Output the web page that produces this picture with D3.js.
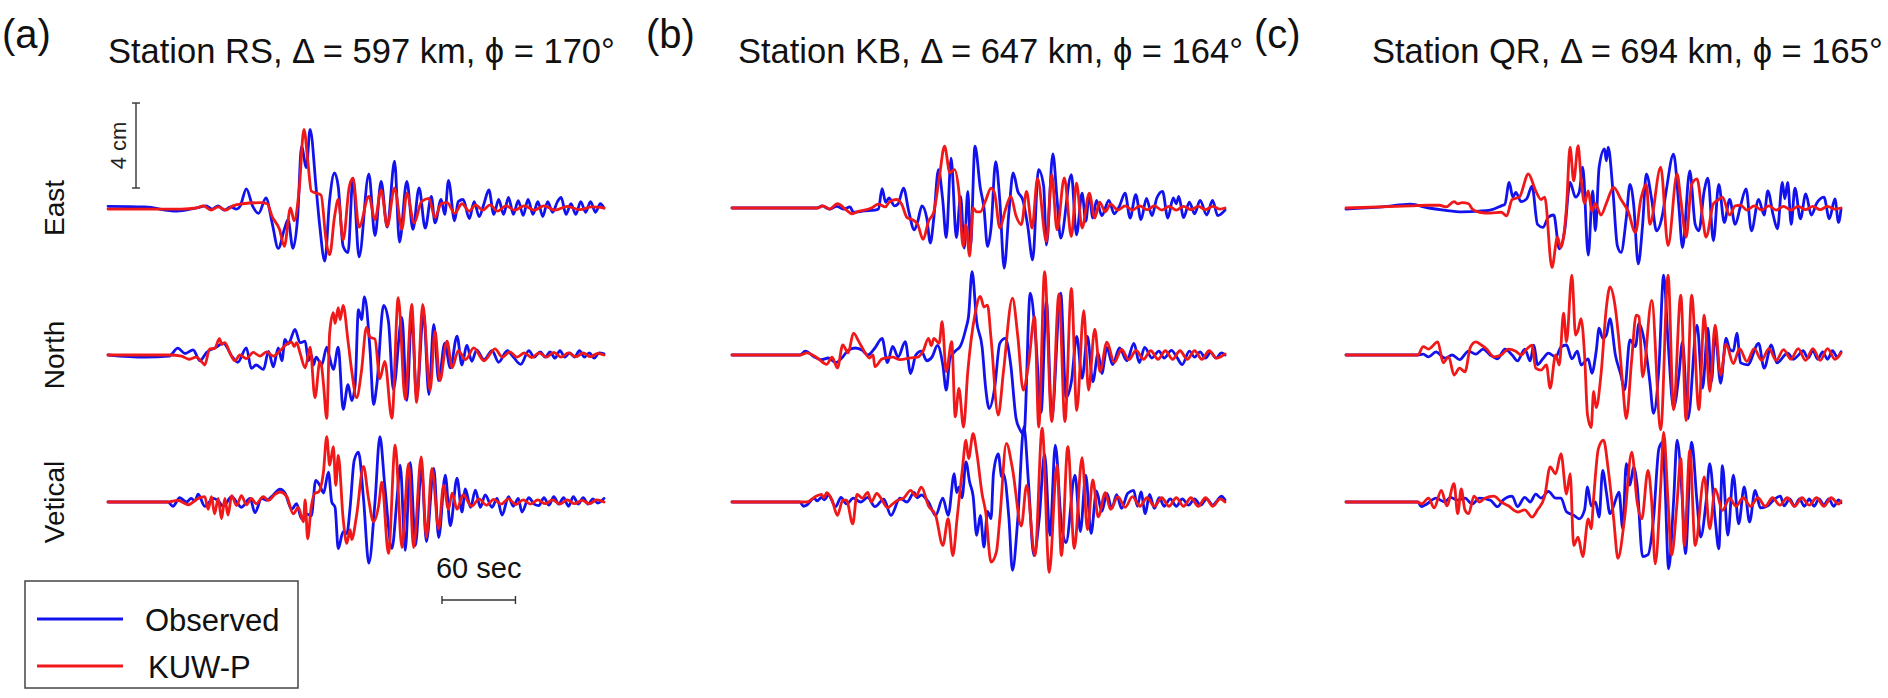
<!DOCTYPE html>
<meta charset="utf-8">
<style>
  body { margin: 0; background: #fff; }
  svg { display: block; font-family: "Liberation Sans", Arial, Helvetica, sans-serif; }
  .trace { fill: none; stroke-width: 2.8; stroke-linejoin: round; stroke-linecap: round; }
  .bar { stroke: #333; stroke-width: 1.4; fill: none; }
</style>
<svg width="1888" height="698"></svg>
<script src="https://d3js.org/d3.v7.min.js"></script>
<script>

var letters = ["(a)", "(b)", "(c)"];
var titles = ["Station RS, \u0394 = 597 km, \u03d5 = 170\u00b0",
              "Station KB, \u0394 = 647 km, \u03d5 = 164\u00b0",
              "Station QR, \u0394 = 694 km, \u03d5 = 165\u00b0"];
var components = ["East", "North", "Vetical"];
var seriesNames = ["Observed", "KUW-P"];

// [time (s), displacement (cm)], peak by peak

// station RS
var rsEastObs = [[0,0.08],[30,0.05],[56,-0.15],[72,0],[80,0.1],[85,-0.05],[90,0.1],[95,-0.1],[100,0.05],[105,-0.05],[108,0.1],[113,0.9],[118,0.1],[123,-0.25],[129,0.47],[134,-0.7],[139,-1.9],[144,-1.0],[147,-0.55],[151,-1.9],[155,-0.3],[158,2.9],[162,1.9],[165,3.7],[170,0.9],[173,-0.9],[177,-2.5],[181,0.4],[185,1.65],[188,1.0],[192,-1.8],[196,-2.1],[200,1.4],[205,-2.3],[213,1.6],[218,-1.3],[223,1.25],[228,-0.9],[234,2.2],[238,-1.6],[244,1.25],[249,-1.0],[254,0.95],[259,-0.95],[264,0.55],[267,-0.7],[272,0.4],[275,-0.3],[278,1.3],[283,-0.6],[286,0.3],[290,0.4],[295,-0.5],[299,0.3],[303,-0.4],[307,0.2],[311,0.85],[315,-0.3],[319,0.4],[323,-0.3],[327,0.5],[331,-0.3],[335,0.35],[339,-0.35],[343,0.4],[347,-0.3],[351,0.3],[355,-0.4],[359,0.3],[363,-0.2],[367,0.3],[370,0.5],[374,-0.3],[378,0.2],[382,-0.3],[386,0.3],[390,-0.2],[394,0.3],[398,-0.2],[402,0.2],[405,0]];
var rsEastSyn = [[0,-0.05],[60,-0.05],[72,0],[78,0.1],[84,-0.1],[90,0.05],[96,-0.1],[102,0.1],[110,0.2],[125,0.25],[130,0.2],[134,-0.4],[140,-1.0],[144,-1.8],[149,0],[152,-0.6],[156,0.8],[160,3.7],[163,2.3],[166,0.8],[170,0.7],[174,0.6],[178,-1.5],[181,-2.2],[185,-0.4],[188,0.4],[192,-1.5],[197,1.0],[200,1.4],[205,-0.9],[213,0.55],[218,-0.55],[223,0.85],[228,-0.85],[234,0.95],[240,-1.0],[244,0.7],[250,-0.7],[256,0.3],[262,0.45],[267,-0.45],[272,0.2],[277,0.25],[283,-0.25],[289,0.2],[295,-0.15],[300,0.15],[306,-0.1],[312,0.15],[318,-0.15],[325,0.1],[332,-0.1],[340,0.1],[348,-0.1],[356,0.1],[365,-0.1],[375,0.08],[385,-0.08],[395,0.05],[405,0]];
var rsNorthObs = [[0,0],[30,-0.1],[50,-0.05],[57,0.32],[63,0.07],[69.5,0.24],[75,-0.27],[80.5,0.12],[88.6,0.37],[94,0.56],[102,-0.13],[106,-0.34],[113,0.34],[117,-0.63],[121,-0.47],[127,-0.68],[131,0.17],[135,-0.56],[139,0.34],[142,-0.27],[144.5,0.74],[147,0.51],[148.6,0.65],[152.7,1.21],[156.8,0.58],[161,0.65],[163.6,-0.27],[166,0],[167.7,-0.47],[170,-0.1],[174.5,-0.47],[178.6,0.37],[181,-0.13],[184,-0.68],[188,0.37],[192,-2.56],[196,-1.4],[199,-2.14],[201.8,-1.4],[204.5,2.14],[207,1.67],[209.4,2.73],[214,0.2],[216.8,-2.33],[219.5,-1.4],[225,2.33],[229,1.58],[233,-1.62],[240,1.77],[244,-2.14],[248,1.91],[252,-2.01],[257.7,1.99],[262,-1.86],[266,1.44],[270,-1.21],[275,0.56],[279.5,-0.6],[285,0.89],[289,-0.47],[293,0.46],[297,-0.3],[301,0.24],[307,-0.22],[313.6,0.2],[319,-0.34],[326,0.2],[331,-0.1],[337,-0.44],[343.6,0.2],[348,-0.1],[353,0.15],[357,-0.1],[361,0.15],[365,-0.15],[369,0.2],[373,-0.1],[377,0.1],[381,-0.1],[385,0.2],[389,-0.1],[393,0.1],[397,-0.15],[401,0.1],[405,0.05]];
var rsNorthSyn = [[0,0],[50,0],[60,-0.05],[66,-0.2],[72,-0.1],[77,-0.35],[79,-0.47],[83,0.29],[87,0.3],[91,0.77],[93,0.5],[95.5,0.58],[99.5,0.1],[103.6,-0.27],[107.7,0],[113,-0.17],[118.6,0.12],[124,-0.05],[129.5,0.15],[135,-0.05],[140.4,0.2],[146,0.51],[150,0.61],[152,0.4],[154,0.58],[156.8,0.1],[161,-0.6],[165,0.37],[169,-2.01],[173,-0.3],[174.5,-0.56],[176,-1.4],[178.6,-2.98],[181,1.05],[184,1.99],[185.4,1.49],[188,2.23],[189.5,1.67],[192,2.33],[196,0.65],[199,-0.74],[203,-2.01],[207,-0.74],[211,1.3],[214,0.84],[218,0.74],[222,-1.12],[226,-0.3],[231.8,-2.98],[237,2.7],[242.7,-2.09],[248,2.38],[252,-2.23],[257,2.38],[263,-1.67],[267,1.12],[271,-1.21],[276.8,0.65],[281,-0.6],[286,0.2],[292,-0.22],[298.6,0.34],[307,-0.27],[316,0.29],[322,-0.1],[328,0.15],[334,-0.1],[340,0.1],[346,-0.12],[352,0.1],[358,-0.1],[364,0.12],[370,-0.1],[376,0.1],[382,-0.08],[388,0.1],[394,-0.08],[400,0.08],[405,0]];
var rsVertObs = [[0,0],[49,0],[53,-0.2],[58.6,0.2],[64,0],[68,0.17],[71,0.05],[73.6,0.37],[79,-0.2],[86,0.17],[90,0.05],[94,-0.2],[101,0.25],[105,0],[109,-0.25],[116,0.17],[120,-0.5],[125.4,0.17],[129.5,0.08],[133.6,0.25],[140.4,0.6],[144.5,0.42],[150,-0.34],[154,-0.08],[158,-0.79],[162,-0.56],[166,-0.65],[169.6,1.02],[173,0.78],[176,0.42],[180,1.41],[182.7,0],[185.4,-0.25],[188,-2.19],[192,-1.4],[195,-1.49],[197.7,-0.25],[201,1.95],[204.5,2.35],[208.6,0.17],[213,-2.88],[218,0],[222,3.07],[226,0.78],[231.8,-2.19],[236,0.17],[238.6,1.73],[242.7,-2.28],[246.8,1.86],[251,-2.05],[256,1.58],[260,-1.86],[266,1.58],[270,-1.67],[275.4,1.26],[279.5,-1.12],[285,1.12],[289,-0.47],[291.8,0.62],[296,-0.25],[300,0.56],[304,-0.25],[308,0.34],[313.6,-0.25],[317.7,0.17],[321.8,-0.62],[327,0.25],[331,-0.2],[335,0.17],[338,-0.47],[343.6,0.2],[348,-0.1],[351.8,-0.17],[356,0.2],[360,-0.15],[364,0.25],[368,-0.1],[372,0.2],[376,-0.2],[380,0.25],[384,-0.1],[388,0.2],[392,-0.1],[396,0.15],[400,-0.05],[405,0.17]];
var rsVertSyn = [[0,0],[49,0],[57,0.08],[65.5,-0.13],[73.6,0.17],[79,0.25],[81.8,-0.34],[84.5,0.25],[87,-0.56],[90,0.17],[92.7,-0.79],[95.4,0.17],[98,-0.62],[101,0.3],[105,-0.17],[109,0.3],[113,-0.13],[117,0.17],[121,-0.08],[126.8,0.25],[131,0.08],[136,0.34],[140.4,0.47],[146,0.25],[151.3,-0.56],[155.4,-0.25],[159.5,-0.93],[161,0.1],[163,-1.73],[166,-0.2],[169,0.42],[171.8,0.47],[175.9,1.4],[178.6,3.07],[181,1.73],[184,2.6],[186,0.78],[188,2.19],[192,-0.78],[195,-1.95],[197.7,-1.3],[199,-1.77],[203,-0.62],[208.6,1.67],[212.7,0.17],[216.8,-0.93],[221,-0.17],[223.6,0.93],[229,-2.42],[234.5,2.67],[240,-2.14],[245.4,1.8],[249.5,-2.14],[255.8,2.12],[260,-1.67],[264.5,1.58],[270,-1.26],[274,0.78],[278,-0.34],[281,0.42],[285,-0.34],[290,0.34],[297,-0.2],[303,0.15],[309,-0.15],[315,0.12],[321,-0.1],[327,0.15],[333,-0.12],[339,0.1],[345,-0.1],[351,0.1],[357,-0.08],[363,0.1],[369,-0.1],[375,0.1],[381,-0.08],[387,0.08],[393,-0.08],[399,0.1],[405,0]];

// station KB
var kbEastObs = [[0,0],[70,0],[74,0.1],[80,-0.05],[86,0.08],[92,-0.05],[96.9,0.05],[99.8,-0.2],[108.6,-0.14],[117.4,-0.1],[120.3,-0.05],[123.3,0.91],[126.2,0.27],[129,0.47],[133.5,0.1],[136.5,0.2],[140.9,0.94],[145.3,-0.18],[149.7,-1.03],[152.6,-0.63],[156,0.1],[160,-0.47],[162.9,-1.65],[165.8,-0.47],[169.6,1.81],[173,0.44],[176,-1.39],[180,2.35],[184.3,-1.39],[187.8,0.55],[190.8,-1.89],[193.7,0.78],[196,-1.74],[199.6,2.91],[204,0.94],[207,0],[209.9,-1.81],[212.8,-0.94],[216.6,2.18],[220,0.36],[223.6,-2.83],[227.5,-0.18],[231,1.65],[234.8,0.78],[239,0.36],[243,-0.87],[247,-2.44],[251.8,1.81],[256,1.04],[258.3,-1.74],[263.6,2.55],[267,0.44],[270,-1.42],[278.8,1.57],[283,-1.26],[287.6,0.7],[290.6,-0.63],[293.5,0.63],[296.4,-0.47],[299.4,0.36],[303.8,-0.36],[309.6,0.36],[314,-0.27],[318.4,0.1],[322.9,0.7],[327,-0.47],[331.7,0.63],[336,-0.55],[340.5,0.45],[345,-0.36],[349,0.47],[353.7,0.78],[358,-0.47],[362.5,0.47],[365,0.2],[367,0.55],[371,-0.45],[375.7,0.27],[380,-0.27],[384.5,0.36],[390,-0.33],[394.8,0.36],[399,-0.36],[405,-0.1]];
var kbEastSyn = [[0,0],[70,0],[74.8,0.1],[80,-0.05],[86.6,0.2],[94,-0.1],[98.3,-0.27],[102.7,-0.18],[114.5,0],[120.3,0.18],[126,0.05],[129,0.27],[135,0.4],[139.4,0.18],[143.8,-0.45],[148.2,-0.55],[152.6,-0.78],[157,-1.48],[161.4,-0.63],[165.8,-0.18],[170.2,1.39],[174.6,2.91],[179,1.65],[182.8,1.81],[186.4,0.78],[189.9,-1.81],[192.2,-0.78],[195.2,-2.26],[198,0],[201,-0.18],[204,-0.18],[208.4,0.36],[212.8,0.94],[215.7,0.7],[220,-0.94],[224.5,-0.1],[229,0.55],[233.3,-0.36],[237.7,-0.78],[242,0.78],[246.5,-0.94],[251,1.39],[258.3,-1.57],[262.7,1.57],[267,-1.03],[273,1.42],[278.8,-1.34],[283,1.17],[287.6,-0.94],[293.5,0.7],[298,-0.47],[302,0.27],[306.7,-0.18],[311,0.18],[317,-0.1],[323,0.1],[329,-0.1],[335,0.1],[341,-0.08],[347,0.1],[353,-0.1],[359,0.08],[365,-0.1],[371,0.08],[377,-0.08],[383,0.08],[389,-0.08],[395,0.08],[401,-0.05],[405,0]];
var kbNorthObs = [[0,0],[55.8,0],[60.2,0.18],[67.5,-0.09],[73.4,-0.22],[79.2,-0.14],[85.1,-0.36],[91,-0.09],[95.4,0.22],[101.3,0.33],[107.1,0.22],[111.5,0],[117.4,0.33],[123.3,0.78],[127.7,-0.36],[132,0.4],[136.5,-0.09],[142.3,0.63],[146.8,-0.87],[151,0],[155.6,0.18],[160,-0.27],[164.4,-0.09],[168.8,0.45],[173.2,-0.47],[176,-1.65],[179,-0.18],[183.4,0.18],[187.8,0.44],[192.2,1.26],[194.3,1.81],[197.2,3.92],[201,1.57],[205.5,0.36],[208.4,-1.57],[211.3,-2.52],[215.7,-1.57],[220,0.55],[224.5,0.78],[229,-0.47],[233.3,-2.96],[236.3,-3.48],[239.8,-3.74],[245,2.91],[249.5,0.78],[253.9,-2.7],[258.3,2.52],[262.7,-2.91],[270,2.91],[274.4,-2.0],[278.8,-1.26],[283.2,0.87],[287.6,-1.1],[292,0.87],[296.4,-1.26],[300.8,0.09],[303.8,-0.87],[308,0.36],[312.6,-0.45],[318.4,0.33],[324.3,-0.27],[330.2,0.55],[334.6,-0.36],[339,0.36],[344.9,-0.14],[350.7,0.18],[355,-0.14],[361,0.22],[365.4,-0.1],[369.8,-0.45],[375.7,0.18],[380,-0.1],[384.5,0.15],[388.9,-0.15],[393.3,0.12],[397.7,-0.15],[402,0.1],[405,0]];
var kbNorthSyn = [[0,0],[55.8,0],[61.6,0.1],[70.4,-0.15],[77.8,-0.44],[82.2,-0.1],[86.6,-0.61],[91,0.47],[95.4,0.1],[99.8,1.03],[104.2,0.63],[108.6,0.18],[113,-0.14],[115.9,0],[117.4,-0.55],[123.3,-0.18],[132,-0.1],[138,-0.22],[146.8,-0.14],[152.6,-0.1],[157,0.18],[161.4,0.78],[163.8,0.44],[165.8,0.78],[170.2,0.55],[172.6,1.57],[176,-0.78],[180.5,0.63],[183.4,-2.91],[186.4,-1.57],[190.2,-3.39],[193.7,-0.78],[199.6,1.91],[204,2.76],[207,2.26],[209.9,2.35],[212.8,0.78],[218.7,-2.83],[223,-0.78],[230.4,2.67],[234.8,0.87],[239.2,-1.65],[243.6,-0.44],[248.6,1.81],[252,-3.39],[256.8,3.92],[262.7,-3.13],[268.6,2.87],[273.5,-3.13],[278.8,3.13],[283.2,-2.61],[289,2.09],[292.9,-1.65],[298,1.22],[302.3,-0.78],[308,0.61],[314,-0.35],[320,0.26],[326,-0.22],[332,0.22],[338,-0.2],[344,0.2],[350,-0.2],[356,0.2],[362,-0.2],[368,0.2],[374,-0.2],[380,0.2],[386,-0.2],[392,0.2],[398,-0.15],[405,0.05]];
var kbVertObs = [[0,0],[55.8,0],[58.7,-0.2],[61.6,-0.14],[67.5,0.18],[70,0.05],[73.4,0.22],[76,0.1],[79.2,0.33],[85.1,-0.22],[89.5,0.22],[94,-0.09],[99.8,0.18],[105.7,0],[111.5,0.22],[117.4,-0.22],[124.7,0.14],[130.6,-0.63],[138,0.18],[143.8,0],[149.7,0.45],[152,0.2],[155.6,0.33],[161.4,0],[167.3,-0.63],[173.2,0.18],[177.6,-0.63],[182.6,1.34],[184.5,0.44],[186.4,0.7],[189,0.2],[192.2,1.89],[195.2,0.94],[198.1,0.27],[201,-1.57],[204,-0.63],[207,-2.12],[209.9,-0.44],[212.8,-0.78],[214.8,1.34],[218.7,2.26],[221.6,1.18],[223,1.34],[227.5,-0.78],[230.4,-3.22],[234.8,-0.78],[239.8,3.54],[243.6,0.87],[248,-2.52],[252.4,-0.78],[256.8,2.26],[261.2,-1.57],[265.6,2.67],[270.6,-1.04],[274.4,-1.91],[281.8,1.26],[286.2,-1.39],[290.6,1.26],[295,-1.48],[299.4,0.52],[303.8,-0.44],[308,0.4],[312,-0.3],[316,0.35],[320,-0.3],[325,0.4],[330,0.55],[333,-0.2],[336,0.47],[339.5,-0.55],[343,0.36],[347,-0.3],[351,0.2],[355,-0.2],[360,0.15],[365,-0.2],[370,0.15],[375,-0.15],[380,0.15],[385,-0.15],[390,0.15],[395,-0.15],[399,0.1],[402,0.27],[405,0.1]];
var kbVertSyn = [[0,0],[55.8,0],[61.6,0],[69,0.27],[73.4,0.36],[75.5,0.2],[77.8,0.44],[82.2,0.09],[86.6,-0.63],[91,0.09],[94,0.09],[99.2,-1.03],[102.7,0.36],[107.1,0.18],[111.5,0.45],[114.5,0],[118.9,0.4],[123.3,0.09],[127.7,-0.27],[132,-0.09],[136.5,0.09],[140.9,0.18],[146.8,0.55],[151,0.27],[155.6,0.7],[161.4,-0.18],[167.3,-0.63],[173.2,-2.04],[177.6,-0.78],[181.4,-2.52],[184.9,-0.78],[189.3,1.57],[192.2,2.91],[194.3,2.04],[198.1,3.22],[201,2.35],[205.5,0.36],[208.4,-0.47],[212.8,-2.83],[217.2,-2.35],[220,-0.78],[225.4,2.76],[230.4,1.57],[237.7,-1.13],[242,0.78],[248.9,-2.52],[254.8,3.48],[260.6,-3.31],[267,1.74],[270.6,-2.52],[275.9,2.61],[281.2,-2.18],[287.6,2.09],[292,-1.3],[296.4,1.04],[300.8,-0.7],[306.7,0.44],[311,-0.35],[317,0.25],[323,-0.25],[329,0.25],[335,-0.2],[341,0.2],[347,-0.2],[353,0.2],[359,-0.2],[365,0.2],[371,-0.2],[377,0.2],[383,-0.2],[389,0.2],[395,-0.2],[401,0.15],[405,0]];

// station QR
var qrEastObs = [[0,-0.05],[30,0.05],[52.8,0.18],[67.6,0],[80,-0.1],[95,-0.18],[109,-0.15],[118,-0.1],[127,0.1],[130,0.18],[133.5,1.2],[136.5,0.51],[138.9,0.74],[143.3,0.3],[147.8,0.43],[152.2,1.03],[156.7,-0.77],[161.1,-0.91],[165.6,-0.43],[170,-0.33],[174.5,-1.92],[178.9,-1.07],[183.3,1.2],[187.8,0.51],[190.8,0.74],[193.7,1.92],[198.2,-2.22],[201.8,0.81],[204,-1.07],[207.1,1.92],[211.5,2.78],[213,2.22],[214.5,2.86],[218.4,0.81],[222,-1.77],[225,-2.09],[229.4,-0.43],[232.3,1.11],[235.3,0.2],[239.1,-2.63],[242.7,-0.77],[245.7,1.6],[250.1,0.4],[254,-1.07],[259,-0.3],[262,0.81],[268,2.54],[272.4,0.04],[275.3,-1.86],[281.3,1.75],[285.7,-0.77],[288.7,-1.07],[293.1,0.81],[296.1,1.41],[300.6,-1.54],[305,1.11],[309.5,-0.68],[313.9,0.4],[318.4,-0.77],[322.8,0.1],[327.3,0.9],[331.7,-1.07],[337.6,0.4],[342.1,-0.33],[345.1,0.81],[349.5,-0.33],[353,-0.98],[357,1.2],[359,0.43],[361.4,1.2],[364.3,-0.77],[367.3,0.94],[371.8,-0.51],[376.2,0.66],[380.7,-0.33],[385.1,0.22],[391,0.51],[395.5,-0.51],[400,0.43],[403,-0.68],[405,-0.05]];
var qrEastSyn = [[0,0],[52.8,0.1],[67.6,0.13],[76.5,0.13],[82,0.05],[88.4,0.3],[91.4,0.2],[95,0.25],[100.3,0.2],[103.3,-0.05],[109.2,-0.2],[118,-0.24],[127,-0.2],[131.4,-0.37],[135.9,0.4],[141.8,0.51],[149.2,1.6],[155.2,0.81],[159.6,0.4],[162.6,0.51],[168.5,-2.8],[173,-1.37],[175.7,-1.86],[180.4,0.04],[183.3,2.86],[186.3,1.28],[189.9,2.93],[192.3,1.41],[195.2,0.22],[198.2,0.81],[201.2,-0.15],[204,0.22],[208.6,-0.33],[213,0.22],[219,0.97],[225,0.4],[230.8,-0.15],[236.8,-1.15],[241.2,0.4],[245.7,1.11],[248.6,-0.77],[257.5,1.92],[263.5,-1.77],[270.9,1.6],[273.9,0.4],[278.3,-1.37],[282.8,1.11],[287.2,1.37],[291.7,-0.43],[294.6,-1.37],[300.6,0.2],[305,0.4],[308,0.51],[313.9,-0.33],[318.4,0.1],[322.8,0.13],[328,-0.1],[334,0.1],[340,-0.1],[346,0.1],[352,-0.1],[358,0.08],[364,-0.1],[370,0.08],[376,-0.08],[382,0.08],[388,-0.08],[394,0.08],[400,-0.05],[405,0]];
var qrNorthObs = [[0,0],[58.7,0],[63.2,0.04],[67.6,-0.09],[73.6,0.15],[81,-0.15],[86.9,0],[92.9,-0.22],[100.3,0.18],[106.2,0.04],[112.2,0.28],[118,0],[124,-0.18],[130,0.28],[135.9,0],[140.3,-0.28],[146.3,0.28],[150.7,-0.28],[153.7,0.46],[156.7,-0.46],[161.1,-0.18],[165.6,0.09],[171.5,-0.09],[175.9,0.37],[180.4,0.47],[184.8,-0.18],[189.3,0.18],[192.3,-0.47],[198.2,-0.18],[201.2,-0.86],[204.7,0.18],[207.1,1.26],[210,0.79],[213,0.94],[216,1.71],[220.4,0],[224.9,-0.94],[227.9,-1.65],[232.3,0.71],[236.8,0.4],[239.7,1.49],[244.2,0.62],[248.6,-1.26],[251.6,-2.74],[256,-0.62],[259.9,3.76],[263.5,0.62],[268,-2.48],[272.4,-0.94],[275.3,0.62],[279.8,-2.99],[287.2,1.41],[291.7,-1.56],[296.1,1.26],[299,-1.26],[302,1.03],[306.5,-1.33],[311,0.79],[313.9,0.28],[316.9,0.18],[319.8,1.03],[322.8,-0.37],[328.7,-0.46],[337.6,0.55],[342.1,-0.62],[348,0.47],[352.5,-0.37],[361.4,0.09],[366,-0.2],[370.3,0],[374,0.2],[378,-0.15],[382,0.2],[386,-0.2],[390,0.15],[394,-0.2],[398,0.2],[402,-0.1],[405,0.15]];
var qrNorthSyn = [[0,0],[58.7,0],[63.2,0.39],[67.6,0.28],[75.1,0.62],[79.5,-0.37],[84,-0.09],[88.4,-0.94],[92.9,-0.62],[97.3,-0.79],[101.8,0.37],[106.2,0.62],[110.7,0.47],[115.1,0.28],[121,-0.09],[127,0],[132.9,0.28],[138.9,0.18],[143.3,0],[147.8,0.28],[152.2,0.46],[155.2,-0.62],[159.6,-0.71],[164,-0.47],[167,-1.56],[171.5,0],[174.5,-0.47],[178,1.97],[180.4,0.62],[184.8,3.76],[187.8,0.94],[189.9,1.18],[192.3,1.71],[195.2,0],[197.6,-2.82],[200.6,-3.42],[202.6,-1.71],[204.7,-2.48],[208.6,-0.94],[213,2.22],[216,3.21],[219.6,2.51],[223.4,0.62],[226.4,-1.41],[229.3,-2.99],[233.8,-0.18],[237.4,1.88],[239.7,1.8],[242.7,-1.03],[250.1,2.57],[257.5,-3.51],[263.5,3.76],[268,-2.57],[273.9,2.82],[278.3,-3.08],[282.8,2.82],[288.7,-2.57],[293.1,1.88],[297.6,-1.71],[302,1.41],[306.5,-0.94],[311,0.51],[316.9,-0.4],[322,0.3],[328,-0.3],[334,0.3],[340,-0.25],[346,0.3],[352,-0.25],[358,0.25],[364,-0.2],[370,0.3],[376,-0.25],[382,0.3],[388,-0.25],[394,0.3],[400,-0.2],[405,0.1]];
var qrVertObs = [[0,0],[58.7,0],[61.7,-0.22],[66.2,-0.09],[73.6,0.18],[81,0],[85.4,0.22],[91.4,0.09],[97.3,0.18],[103.3,-0.09],[109.2,0.18],[118,0.09],[124,-0.22],[128.5,0.09],[135.9,0.28],[140.3,-0.22],[146.3,0.22],[150.7,0],[155.2,0.37],[159.6,0.18],[165.6,0.5],[171.5,0.18],[175.9,0.18],[180.4,-0.46],[186.3,-0.62],[190.8,-0.79],[195.2,-0.37],[197.6,0.71],[200.6,-0.18],[204.1,0],[207.1,-0.71],[210,1.49],[213,0.47],[216,-0.55],[219,-0.18],[223.4,0.46],[226.4,-1.26],[229.3,1.8],[232.3,0.79],[235.3,1.65],[238.2,0.79],[242.7,-2.57],[247.1,-2.48],[251.6,-0.79],[256,2.51],[259,2.82],[260.5,1.56],[264,-3.14],[268,0],[270.9,2.91],[275.3,0],[277.7,-2.43],[282.8,2.82],[287.2,0],[290.2,-1.65],[294.6,0],[297.6,1.8],[302,-0.79],[305,-2.2],[308,1.71],[312.4,-1.56],[316.9,1.26],[321.3,-1.03],[325.8,0.71],[330.2,-0.94],[334.7,0.55],[339.1,-0.28],[345.1,-0.18],[350,0.1],[355.4,0.28],[358.4,-0.18],[363,0.15],[367,-0.2],[371,0.15],[375,-0.2],[379,0.15],[383,-0.2],[387,0.15],[391,-0.15],[395,0.15],[399,-0.2],[403,0.1],[405,-0.04]];
var qrVertSyn = [[0,0],[58.7,0],[61.7,-0.09],[67.6,0.18],[72.1,-0.28],[78,0.55],[82.5,-0.18],[88.4,0.86],[91.4,-0.55],[94.3,0.62],[97.3,-0.37],[100.3,-0.55],[104.7,0.28],[109.2,0],[113.6,0.18],[121,0.28],[127,0],[132.9,-0.18],[140.3,-0.47],[146.3,-0.37],[152.2,-0.71],[156.7,-0.37],[162.6,0.28],[167,1.65],[171.5,1.33],[175.9,2.27],[180.4,0.37],[183.4,1.33],[186.3,-2.05],[189.9,-1.65],[193.7,-2.57],[198.2,-0.79],[200.6,-1.26],[202.6,0.18],[206.5,2.51],[210.7,2.91],[214.5,1.56],[219,-0.79],[222.5,-2.65],[227.9,-0.79],[233.8,2.35],[238.2,0],[242,-0.79],[247.1,1.49],[250.1,0],[253,-2.91],[257.5,0.79],[259.9,3.29],[263.5,0],[266.4,-2.51],[270.9,0],[273.9,2.05],[276.8,-2.05],[281.3,2.43],[285.7,-2.05],[293.1,1.18],[297.6,-1.26],[302,0.62],[308,-0.39],[313.9,0.18],[319,-0.2],[325,0.2],[331,-0.2],[337,0.2],[343,-0.2],[349,0.2],[355,-0.15],[361,0.2],[367,-0.2],[373,0.2],[379,-0.15],[385,0.2],[391,-0.2],[397,0.2],[403,-0.1],[405,0.05]];

var traces = [
  [[rsEastObs, rsEastSyn], [rsNorthObs, rsNorthSyn], [rsVertObs, rsVertSyn]],
  [[kbEastObs, kbEastSyn], [kbNorthObs, kbNorthSyn], [kbVertObs, kbVertSyn]],
  [[qrEastObs, qrEastSyn], [qrNorthObs, qrNorthSyn], [qrVertObs, qrVertSyn]]
];

var svg = d3.select("svg");

svg.append("rect").attr("width", 1888).attr("height", 698).attr("fill", "#fff");

var duration = 405,          // seconds shown in each panel
    pxPerCm = 21.25,
    panelX = [[108, 604], [732, 1225], [1346, 1841]],
    rowY = [208, 355, 502];

var color = d3.scaleOrdinal()
  .domain(seriesNames)
  .range(["#1212ee", "#f01818"]);

var xs = panelX.map(function(r) { return d3.scaleLinear().domain([0, duration]).range(r); });
var ys = rowY.map(function(b) { return d3.scaleLinear().domain([0, 1]).range([b, b - pxPerCm]); });

xs.forEach(function(x, p) {
  ys.forEach(function(y, c) {
    var line = d3.line()
      .x(function(d) { return x(d[0]); })
      .y(function(d) { return y(d[1]); })
      .curve(d3.curveMonotoneX);

    svg.append("g")
      .selectAll("path")
      .data(traces[p][c])
      .enter().append("path")
        .attr("class", "trace")
        .attr("stroke", function(d, i) { return color(seriesNames[i]); })
        .attr("d", line);
  });
});

// panel letters and titles
svg.selectAll(".letter")
  .data(letters)
  .enter().append("text")
    .attr("class", "letter")
    .attr("x", function(d, i) { return [2, 646, 1254][i]; })
    .attr("y", 48)
    .style("font-size", "40px")
    .attr("fill", "#111")
    .text(function(d) { return d; });

svg.selectAll(".title")
  .data(titles)
  .enter().append("text")
    .attr("class", "title")
    .attr("x", function(d, i) { return [108, 738, 1372][i]; })
    .attr("y", 63)
    .style("font-size", "34.5px")
    .attr("fill", "#111")
    .text(function(d) { return d; });

// component labels
svg.selectAll(".comp")
  .data(components)
  .enter().append("text")
    .attr("class", "comp")
    .attr("transform", function(d, i) { return "translate(64," + rowY[i] + ") rotate(-90)"; })
    .attr("text-anchor", "middle")
    .style("font-size", "28px")
    .attr("fill", "#111")
    .text(function(d) { return d; });

// 4 cm scale bar, sitting above the East trace of panel (a)
var yE = ys[0], barX = 136, barLo = 0.94, barHi = barLo + 4;
var ampBar = svg.append("g").attr("class", "bar");
ampBar.append("line").attr("x1", barX).attr("x2", barX).attr("y1", yE(barLo)).attr("y2", yE(barHi));
ampBar.append("line").attr("x1", barX - 4).attr("x2", barX + 4).attr("y1", yE(barLo)).attr("y2", yE(barLo));
ampBar.append("line").attr("x1", barX - 4).attr("x2", barX + 4).attr("y1", yE(barHi)).attr("y2", yE(barHi));
svg.append("text")
  .attr("transform", "translate(126," + yE(barLo + 2) + ") rotate(-90)")
  .attr("text-anchor", "middle")
  .style("font-size", "22px")
  .attr("fill", "#222")
  .text("4 cm");

// 60 sec scale bar
var xa = xs[0], t0 = 272.7, barY = 600;
var timeBar = svg.append("g").attr("class", "bar");
timeBar.append("line").attr("x1", xa(t0)).attr("x2", xa(t0 + 60)).attr("y1", barY).attr("y2", barY);
timeBar.append("line").attr("x1", xa(t0)).attr("x2", xa(t0)).attr("y1", barY - 4).attr("y2", barY + 4);
timeBar.append("line").attr("x1", xa(t0 + 60)).attr("x2", xa(t0 + 60)).attr("y1", barY - 4).attr("y2", barY + 4);
svg.append("text")
  .attr("x", xa(t0 + 30))
  .attr("y", 578)
  .attr("text-anchor", "middle")
  .style("font-size", "29px")
  .attr("fill", "#111")
  .text("60 sec");

// legend
var legend = svg.append("g");
legend.append("rect")
  .attr("x", 25).attr("y", 581)
  .attr("width", 273).attr("height", 107)
  .attr("fill", "none")
  .attr("stroke", "#444")
  .attr("stroke-width", 1.5);

var items = legend.selectAll(".item")
  .data(seriesNames)
  .enter().append("g")
    .attr("class", "item")
    .attr("transform", function(d, i) { return "translate(0," + (619 + i * 47) + ")"; });

items.append("line")
  .attr("x1", 37).attr("x2", 123)
  .attr("stroke", color)
  .attr("stroke-width", 3);

items.append("text")
  .attr("x", function(d, i) { return i ? 148 : 145; })
  .attr("y", 12)
  .style("font-size", "31px")
  .attr("fill", "#111")
  .text(function(d) { return d; });

</script>
